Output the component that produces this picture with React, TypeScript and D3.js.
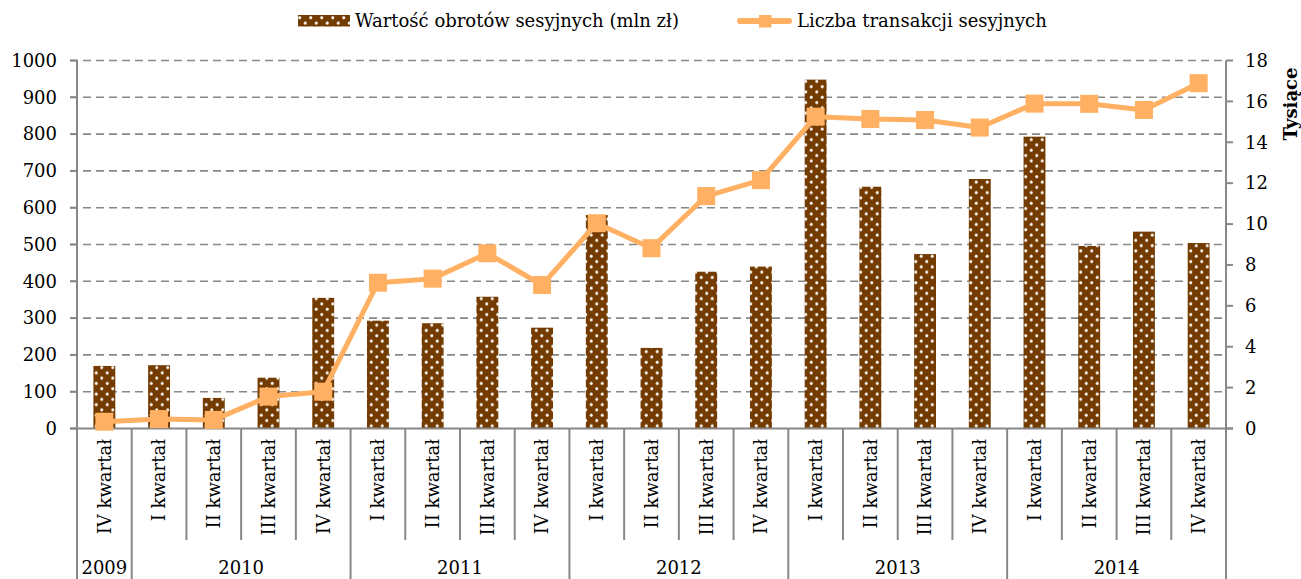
import React from "react";
import * as d3 from "d3";

const quarters = [
  "IV kwartał",
  "I kwartał", "II kwartał", "III kwartał", "IV kwartał",
  "I kwartał", "II kwartał", "III kwartał", "IV kwartał",
  "I kwartał", "II kwartał", "III kwartał", "IV kwartał",
  "I kwartał", "II kwartał", "III kwartał", "IV kwartał",
  "I kwartał", "II kwartał", "III kwartał", "IV kwartał",
];
const years = [
  { label: "2009", start: 0, count: 1 },
  { label: "2010", start: 1, count: 4 },
  { label: "2011", start: 5, count: 4 },
  { label: "2012", start: 9, count: 4 },
  { label: "2013", start: 13, count: 4 },
  { label: "2014", start: 17, count: 4 },
];
const turnover = [170, 172, 83, 138, 355, 293, 286, 358, 274, 580, 219, 426, 440, 948, 657, 474, 678, 793, 496, 535, 504];
const transactions = [0.33, 0.46, 0.42, 1.56, 1.8, 7.13, 7.33, 8.57, 7.02, 10.04, 8.82, 11.37, 12.15, 15.25, 15.14, 15.09, 14.72, 15.89, 15.88, 15.58, 16.89];
const leftTicks = [0, 100, 200, 300, 400, 500, 600, 700, 800, 900, 1000];
const rightTicks = [0, 2, 4, 6, 8, 10, 12, 14, 16, 18];
const legendBar = "Wartość obrotów sesyjnych (mln zł)";
const legendLine = "Liczba transakcji sesyjnych";
const rightTitle = "Tysiące";

const W = 1301, H = 579;
const X0 = 77, X1 = 1226, Y0 = 428.5, Y1 = 60.5;
const BROWN = "#733b00";
const ORANGE = "#ffb062";
const GRID = "#878787";
const FONT = "'DejaVu Serif', serif";
const FS = 18;

export default function App() {
  const idx = quarters.map((_, i) => String(i));
  const x = d3.scaleBand<string>().domain(idx).range([X0, X1]).paddingInner(0.6).paddingOuter(0.3);
  const step = x.step();
  const cx = (i: number) => (x(String(i)) as number) + x.bandwidth() / 2;
  const yL = d3.scaleLinear().domain([0, 1000]).range([Y0, Y1]);
  const yR = d3.scaleLinear().domain([0, 18]).range([Y0, Y1]);
  const line = d3.line<number>().x((_, i) => cx(i)).y((d) => yR(d));
  const ms = 18;
  const yearStarts = new Set(years.map((y) => y.start).concat([quarters.length]));

  return (
    <svg width={W} height={H} style={{ position: "absolute", left: 0, top: 0, background: "#fff" }} fontFamily={FONT}>
      <defs>
        <pattern id="dots" width={11} height={10.6} patternUnits="userSpaceOnUse" x={X0} y={Y0}>
          <rect width={11} height={10.6} fill={BROWN} />
          <circle cx={2.75} cy={2.65} r={1.6} fill="#e8dcd0" />
          <circle cx={8.25} cy={7.95} r={1.6} fill="#e8dcd0" />
          <circle cx={2.75} cy={2.65} r={0.9} fill="#ffffff" />
          <circle cx={8.25} cy={7.95} r={0.9} fill="#ffffff" />
        </pattern>
      </defs>

      {/* gridlines */}
      {leftTicks.filter((t) => t > 0).map((t) => (
        <line key={"g" + t} x1={X0 - 7} x2={X1} y1={yL(t)} y2={yL(t)} stroke={GRID} strokeWidth={1.6} strokeDasharray="8,5" />
      ))}

      {/* bars */}
      {turnover.map((v, i) => (
        <rect key={"b" + i} x={x(String(i))} y={yL(v)} width={x.bandwidth()} height={Y0 - yL(v)} fill="url(#dots)" />
      ))}

      {/* axes */}
      <line x1={X0} x2={X0} y1={Y1} y2={H} stroke={GRID} strokeWidth={2} />
      <line x1={X1} x2={X1} y1={Y1} y2={H} stroke={GRID} strokeWidth={2} />
      <line x1={X0 - 7} x2={X1 + 7} y1={Y0} y2={Y0} stroke={GRID} strokeWidth={2} />
      {leftTicks.map((t) => (
        <g key={"lt" + t}>
          <line x1={X0 - 7} x2={X0} y1={yL(t)} y2={yL(t)} stroke={GRID} strokeWidth={2} />
          <text x={57} y={yL(t)} dy="0.35em" textAnchor="end" fontSize={FS} fill="#000">{t}</text>
        </g>
      ))}
      {rightTicks.map((t) => (
        <g key={"rt" + t}>
          <line x1={X1} x2={X1 + 7} y1={yR(t)} y2={yR(t)} stroke={GRID} strokeWidth={2} />
          <text x={1245} y={yR(t)} dy="0.35em" textAnchor="start" fontSize={FS} fill="#000">{t}</text>
        </g>
      ))}
      <text transform={`translate(1291,104) rotate(-90)`} textAnchor="middle" fontSize={FS} fontWeight="bold" dy="0.35em">{rightTitle}</text>

      {/* category separators */}
      {d3.range(quarters.length + 1).map((i) => (
        <line key={"s" + i} x1={X0 + i * step} x2={X0 + i * step} y1={Y0} y2={yearStarts.has(i) ? H : 540} stroke={GRID} strokeWidth={2} />
      ))}
      {quarters.map((q, i) => (
        <text key={"q" + i} transform={`translate(${cx(i)},439) rotate(-90)`} textAnchor="end" dy="0.35em" fontSize={FS}>{q}</text>
      ))}
      {years.map((y) => (
        <text key={y.label} x={X0 + (y.start + y.count / 2) * step} y={568} dy="0.35em" textAnchor="middle" fontSize={FS}>{y.label}</text>
      ))}

      {/* line series */}
      <path d={line(transactions) as string} fill="none" stroke={ORANGE} strokeWidth={5} strokeLinejoin="round" />
      {transactions.map((v, i) => (
        <rect key={"m" + i} x={cx(i) - ms / 2} y={yR(v) - ms / 2} width={ms} height={ms} fill={ORANGE} />
      ))}

      {/* legend */}
      <rect x={298} y={15} width={52} height={11.5} fill="url(#dots)" />
      <text x={355} y={20.5} dy="0.35em" fontSize={FS}>{legendBar}</text>
      <line x1={740} x2={789} y1={21} y2={21} stroke={ORANGE} strokeWidth={6} strokeLinecap="round" />
      <rect x={759} y={15} width={12.5} height={12.5} fill={ORANGE} />
      <text x={797} y={20.5} dy="0.35em" fontSize={FS}>{legendLine}</text>
    </svg>
  );
}
